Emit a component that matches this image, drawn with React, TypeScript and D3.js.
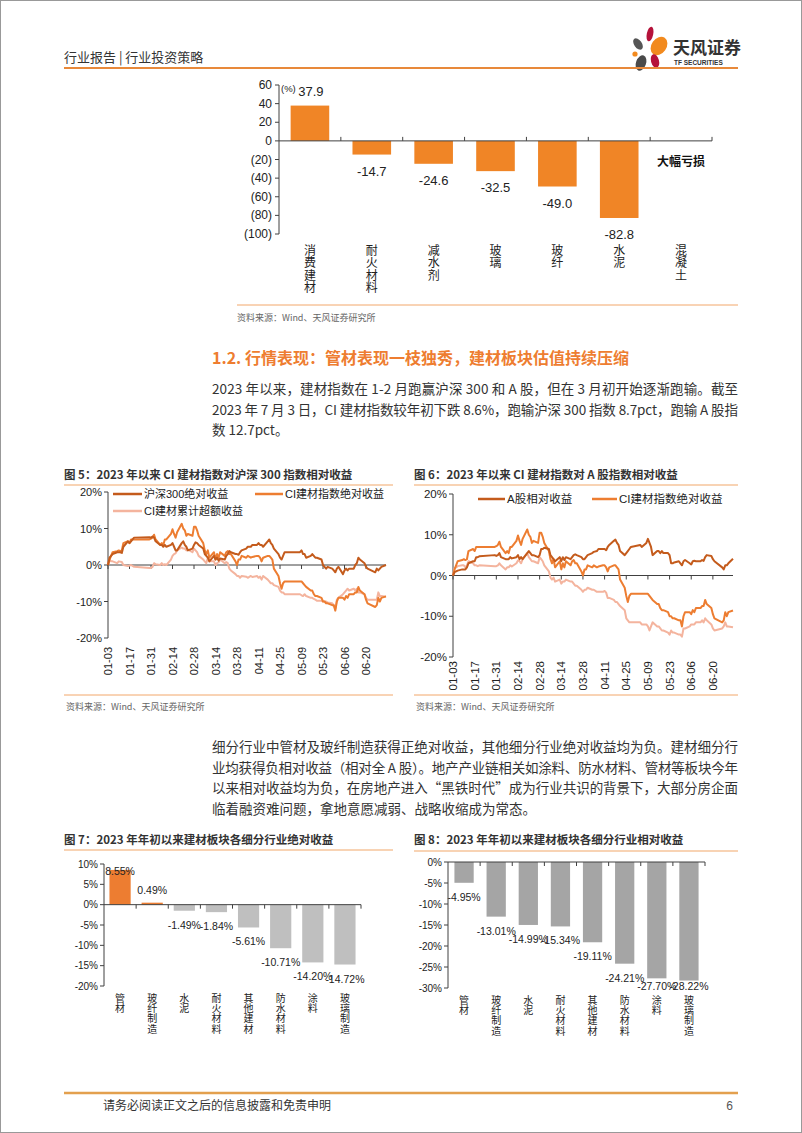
import React from "react";
import * as d3 from "d3";

const CJK = '"Noto Sans CJK SC", "Noto Sans", sans-serif';
const NUM = '"Liberation Sans", "Noto Sans CJK SC", sans-serif';

// ---------- Top chart (continued figure) ----------
const topCategories = ["消费建材", "耐火材料", "减水剂", "玻璃", "玻纤", "水泥", "混凝土"];
const topValues: (number | null)[] = [37.9, -14.7, -24.6, -32.5, -49.0, -82.8, null];
const topTicks = [60, 40, 20, 0, -20, -40, -60, -80, -100];
const topTickLabels = ["60", "40", "20", "0", "(20)", "(40)", "(60)", "(80)", "(100)"];

// ---------- Line charts ----------
const dateTicks = ["01-03", "01-17", "01-31", "02-14", "02-28", "03-14", "03-28", "04-11", "04-25", "05-09", "05-23", "06-06", "06-20"];
const pctTicks = [20, 10, 0, -10, -20];

const ciIndex: [string, number][] = [
  ["01-03", 0], ["01-04", 1.5], ["01-05", 2.5], ["01-06", 3.5], ["01-09", 3.8], ["01-10", 4], ["01-11", 3.8], ["01-12", 4],
  ["01-13", 6], ["01-16", 6.5], ["01-17", 6], ["01-18", 7], ["01-19", 7], ["01-20", 7], ["01-30", 7], ["01-31", 7.2],
  ["02-01", 7.5], ["02-02", 8.3], ["02-03", 7], ["02-06", 5.5], ["02-07", 6], ["02-08", 5.5], ["02-09", 7], ["02-10", 7],
  ["02-13", 8.5], ["02-14", 9.8], ["02-15", 8.5], ["02-16", 7.5], ["02-17", 9], ["02-20", 11.3], ["02-21", 10], ["02-22", 9.5],
  ["02-23", 8], ["02-24", 8.5], ["02-27", 8], ["02-28", 10.5], ["03-01", 10.5], ["03-02", 9.5], ["03-03", 8], ["03-06", 6],
  ["03-07", 4], ["03-08", 3], ["03-09", 4], ["03-10", 2], ["03-13", 3.5], ["03-14", 1.5], ["03-15", 3], ["03-16", 2],
  ["03-17", 3.5], ["03-20", 2.5], ["03-21", 3.5], ["03-22", 3.8], ["03-23", 3], ["03-24", 3], ["03-27", 1], ["03-28", 0],
  ["03-29", 1.5], ["03-30", 1.5], ["03-31", 2.5], ["04-03", 2], ["04-04", 2.5], ["04-06", 2], ["04-07", 2.2], ["04-10", 2.5],
  ["04-11", 2.5], ["04-12", 2], ["04-13", 1], ["04-14", 2], ["04-17", 2.5], ["04-18", 2.5], ["04-19", 2], ["04-20", 1.5],
  ["04-21", -1], ["04-24", -3], ["04-25", -5], ["04-26", -6.5], ["04-27", -5], ["04-28", -4.5], ["05-04", -4.5], ["05-05", -4.5],
  ["05-08", -4.5], ["05-09", -4.5], ["05-10", -5], ["05-11", -5.5], ["05-12", -6], ["05-15", -7], ["05-16", -7], ["05-17", -8],
  ["05-18", -8.5], ["05-19", -8.5], ["05-22", -9], ["05-23", -10], ["05-24", -10], ["05-25", -10.5], ["05-26", -10.5], ["05-29", -11],
  ["05-30", -11], ["05-31", -12.5], ["06-01", -10], ["06-02", -9], ["06-05", -9], ["06-06", -9.5], ["06-07", -8.5], ["06-08", -9],
  ["06-09", -8], ["06-12", -8], ["06-13", -7.5], ["06-14", -7.5], ["06-15", -6], ["06-16", -7], ["06-19", -8], ["06-20", -9.5],
  ["06-21", -10.5], ["06-26", -11.5], ["06-27", -11], ["06-28", -9], ["06-29", -10], ["06-30", -9], ["07-03", -8.6],
];

const hs300: [string, number][] = [
  ["01-03", 0], ["01-04", 2], ["01-05", 2.5], ["01-06", 3], ["01-09", 3.5], ["01-10", 3.5], ["01-11", 3.5], ["01-12", 3.3],
  ["01-13", 5], ["01-16", 6.5], ["01-17", 6], ["01-18", 6.5], ["01-19", 7], ["01-20", 7.5], ["01-30", 7.6], ["01-31", 7.5],
  ["02-01", 7.8], ["02-02", 7.5], ["02-03", 6.5], ["02-06", 5.5], ["02-07", 5.5], ["02-08", 5], ["02-09", 5.5], ["02-10", 5],
  ["02-13", 5.5], ["02-14", 6], ["02-15", 5], ["02-16", 4], ["02-17", 4], ["02-20", 6], ["02-21", 6.5], ["02-22", 5.5],
  ["02-23", 5], ["02-24", 4], ["02-27", 4.5], ["02-28", 5.5], ["03-01", 6.2], ["03-02", 6], ["03-03", 5.5], ["03-06", 4.5],
  ["03-07", 3], ["03-08", 2.5], ["03-09", 2], ["03-10", 1], ["03-13", 2.5], ["03-14", 1.5], ["03-15", 2], ["03-16", 1.2],
  ["03-17", 1.8], ["03-20", 1.5], ["03-21", 2.5], ["03-22", 3], ["03-23", 3.8], ["03-24", 3.5], ["03-27", 3], ["03-28", 3],
  ["03-29", 2.8], ["03-30", 3.5], ["03-31", 4], ["04-03", 4.5], ["04-04", 5], ["04-06", 5], ["04-07", 5.5], ["04-10", 5.5],
  ["04-11", 6], ["04-12", 5.5], ["04-13", 5.5], ["04-14", 5], ["04-17", 6.5], ["04-18", 7], ["04-19", 6], ["04-20", 5.5],
  ["04-21", 4.5], ["04-24", 3], ["04-25", 2], ["04-26", 1.5], ["04-27", 2.5], ["04-28", 3.5], ["05-04", 3.5], ["05-05", 3.5],
  ["05-08", 3.5], ["05-09", 4], ["05-10", 3], ["05-11", 3], ["05-12", 2], ["05-15", 2.5], ["05-16", 3], ["05-17", 2.5],
  ["05-18", 2], ["05-19", 2], ["05-22", 1.5], ["05-23", 0], ["05-24", -0.5], ["05-25", -1], ["05-26", -0.5], ["05-29", -1],
  ["05-30", -1.5], ["05-31", -2], ["06-01", -1], ["06-02", -0.5], ["06-05", -2.5], ["06-06", -1.5], ["06-07", -1], ["06-08", -1.5],
  ["06-09", -1], ["06-12", -1], ["06-13", 0], ["06-14", 0.5], ["06-15", 2], ["06-16", 1.5], ["06-19", 0.5], ["06-20", -0.5],
  ["06-21", -1], ["06-26", -2], ["06-27", -1], ["06-28", -1.5], ["06-29", -1], ["06-30", -0.5], ["07-03", 0],
];

const excessVsHs300: [string, number][] = [
  ["01-03", 0], ["01-04", 1.5], ["01-05", 1], ["01-06", 1], ["01-09", 0.5], ["01-10", 1], ["01-12", 0.8], ["01-13", 0],
  ["01-16", -0.3], ["01-18", 0], ["01-20", -0.5], ["01-30", -0.8], ["01-31", -0.8], ["02-01", -0.5], ["02-02", 0.5], ["02-03", 0.2],
  ["02-06", 0], ["02-07", 0.5], ["02-08", 0], ["02-09", 0.2], ["02-10", 0], ["02-13", 1.5], ["02-14", 2.5], ["02-15", 3],
  ["02-16", 3.2], ["02-17", 4], ["02-20", 4.8], ["02-21", 4.5], ["02-22", 4.5], ["02-23", 4], ["02-24", 4.2], ["02-27", 3.5],
  ["02-28", 4.5], ["03-01", 4], ["03-02", 3.5], ["03-03", 2.5], ["03-06", 1.5], ["03-07", 1], ["03-08", 0.5], ["03-09", 2],
  ["03-10", 1], ["03-13", 1], ["03-14", 0], ["03-15", 0.5], ["03-16", 0.7], ["03-17", 1.5], ["03-20", 0.5], ["03-21", 0.8],
  ["03-22", 0.5], ["03-23", -1], ["03-24", -1.5], ["03-27", -2.5], ["03-28", -3], ["03-29", -3], ["03-30", -3.5], ["03-31", -3],
  ["04-03", -3.2], ["04-04", -3.5], ["04-06", -3], ["04-07", -3.3], ["04-10", -3], ["04-11", -3.5], ["04-12", -3.2], ["04-13", -4],
  ["04-14", -3], ["04-17", -4], ["04-18", -4.5], ["04-19", -5], ["04-20", -5], ["04-21", -5.5], ["04-24", -6], ["04-25", -7],
  ["04-26", -7.5], ["04-27", -7.5], ["04-28", -8], ["05-04", -8], ["05-05", -8], ["05-08", -8], ["05-09", -8.3], ["05-10", -8.5],
  ["05-11", -8], ["05-12", -8.5], ["05-15", -9], ["05-16", -9], ["05-17", -9.3], ["05-18", -9.5], ["05-19", -9.8], ["05-22", -9.8],
  ["05-23", -10], ["05-24", -10], ["05-25", -10], ["05-26", -10.3], ["05-29", -10.5], ["05-30", -11], ["05-31", -12], ["06-01", -9.5],
  ["06-02", -9], ["06-05", -8], ["06-06", -7.5], ["06-07", -7], ["06-08", -6.5], ["06-09", -7], ["06-12", -6.5], ["06-13", -7],
  ["06-14", -6.5], ["06-15", -7.5], ["06-16", -7.5], ["06-19", -8], ["06-20", -9], ["06-21", -9.5], ["06-26", -9.5], ["06-27", -9.5],
  ["06-28", -7.5], ["06-29", -8.5], ["06-30", -8.5], ["07-03", -8.7],
];

const aShare: [string, number][] = [
  ["01-03", 0], ["01-04", 0.8], ["01-05", 1], ["01-06", 1.2], ["01-09", 1.5], ["01-10", 1.5], ["01-11", 1.5], ["01-12", 2],
  ["01-13", 3], ["01-16", 3.5], ["01-17", 3.5], ["01-18", 4.5], ["01-19", 4.5], ["01-20", 4.7], ["01-30", 5], ["01-31", 4.8],
  ["02-01", 5], ["02-02", 5.5], ["02-03", 4.5], ["02-06", 4], ["02-07", 4], ["02-08", 4], ["02-09", 4.5], ["02-10", 4.2],
  ["02-13", 4.5], ["02-14", 5], ["02-15", 4], ["02-16", 4.5], ["02-17", 4], ["02-20", 5.5], ["02-21", 6], ["02-22", 5.5],
  ["02-23", 5], ["02-24", 5], ["02-27", 4.5], ["02-28", 5], ["03-01", 6.5], ["03-02", 6.5], ["03-03", 6.8], ["03-06", 6.5],
  ["03-07", 5], ["03-08", 4.5], ["03-09", 4], ["03-10", 3.5], ["03-13", 4.5], ["03-14", 3.5], ["03-15", 4.5], ["03-16", 3.8],
  ["03-17", 4.5], ["03-20", 4], ["03-21", 4.5], ["03-22", 5], ["03-23", 5.2], ["03-24", 5], ["03-27", 4.5], ["03-28", 4],
  ["03-29", 4], ["03-30", 4.5], ["03-31", 5], ["04-03", 5.5], ["04-04", 5.8], ["04-06", 6], ["04-07", 6.5], ["04-10", 6.5],
  ["04-11", 6.5], ["04-12", 6.2], ["04-13", 7], ["04-14", 7.5], ["04-17", 8.5], ["04-18", 8.8], ["04-19", 8], ["04-20", 7.5],
  ["04-21", 6], ["04-24", 5], ["04-25", 5.5], ["04-26", 6], ["04-27", 6.5], ["04-28", 7], ["05-04", 7.5], ["05-05", 7],
  ["05-08", 8], ["05-09", 9], ["05-10", 8], ["05-11", 7], ["05-12", 5], ["05-15", 6], ["05-16", 6], ["05-17", 5.5],
  ["05-18", 6], ["05-19", 5.5], ["05-22", 5.5], ["05-23", 5], ["05-24", 3], ["05-25", 3], ["05-26", 3.2], ["05-29", 3.5],
  ["05-30", 3], ["05-31", 2.5], ["06-01", 3.5], ["06-02", 3.8], ["06-05", 3], ["06-06", 2.7], ["06-07", 3.5], ["06-08", 3.6],
  ["06-09", 3.5], ["06-12", 3.5], ["06-13", 3.8], ["06-14", 3.6], ["06-15", 4.5], ["06-16", 5], ["06-19", 4.8], ["06-20", 4],
  ["06-21", 3.5], ["06-26", 2], ["06-27", 1.5], ["06-28", 2.5], ["06-29", 2.5], ["06-30", 3], ["07-03", 4.1],
];

const excessVsA: [string, number][] = [
  ["01-03", 0], ["01-04", 1.8], ["01-05", 2], ["01-06", 2.3], ["01-09", 2.5], ["01-10", 2.5], ["01-11", 2], ["01-12", 2.5],
  ["01-13", 3.5], ["01-16", 3], ["01-17", 2.5], ["01-18", 2.5], ["01-19", 2.3], ["01-20", 2.5], ["01-30", 2.3], ["01-31", 2.3],
  ["02-01", 2.5], ["02-02", 3], ["02-03", 2.5], ["02-06", 1.5], ["02-07", 2], ["02-08", 2], ["02-09", 2.5], ["02-10", 2.2],
  ["02-13", 3], ["02-14", 3.7], ["02-15", 3.5], ["02-16", 3], ["02-17", 4], ["02-20", 5.5], ["02-21", 4.5], ["02-22", 4],
  ["02-23", 3.5], ["02-24", 3.5], ["02-27", 3], ["02-28", 4.5], ["03-01", 4], ["03-02", 3.5], ["03-03", 2.5], ["03-06", 1],
  ["03-07", -0.5], ["03-08", -1], ["03-09", -0.5], ["03-10", -1.5], ["03-13", -1], ["03-14", -2], ["03-15", -1.5], ["03-16", -1.5],
  ["03-17", -1], ["03-20", -1.5], ["03-21", -1.5], ["03-22", -2], ["03-23", -2.5], ["03-24", -2.5], ["03-27", -3.5], ["03-28", -4],
  ["03-29", -3.5], ["03-30", -3.5], ["03-31", -3], ["04-03", -3.5], ["04-04", -3.5], ["04-06", -4], ["04-07", -4], ["04-10", -4],
  ["04-11", -3.8], ["04-12", -4.2], ["04-13", -5.5], ["04-14", -5.5], ["04-17", -6], ["04-18", -6.5], ["04-19", -6.5], ["04-20", -7],
  ["04-21", -7.5], ["04-24", -8.5], ["04-25", -10.5], ["04-26", -11], ["04-27", -11.5], ["04-28", -11.5], ["05-04", -11.5], ["05-05", -12],
  ["05-08", -12], ["05-09", -12.5], ["05-10", -13.5], ["05-11", -12.5], ["05-12", -11.5], ["05-15", -12.5], ["05-16", -12.5], ["05-17", -13],
  ["05-18", -13.5], ["05-19", -13.5], ["05-22", -14], ["05-23", -14.5], ["05-24", -13.5], ["05-25", -14], ["05-26", -14], ["05-29", -14.5],
  ["05-30", -14.5], ["05-31", -15], ["06-01", -13], ["06-02", -13], ["06-05", -12.5], ["06-06", -12], ["06-07", -12], ["06-08", -12],
  ["06-09", -11.5], ["06-12", -11.5], ["06-13", -11], ["06-14", -11.5], ["06-15", -10.5], ["06-16", -11], ["06-19", -12], ["06-20", -13],
  ["06-21", -13.5], ["06-26", -13], ["06-27", -12.5], ["06-28", -11.5], ["06-29", -12.5], ["06-30", -12.5], ["07-03", -12.7],
];

// ---------- Sub-industry bar charts ----------
const subCategories = ["管材", "玻纤制造", "水泥", "耐火材料", "其他建材", "防水材料", "涂料", "玻璃制造"];
const absReturns = [8.55, 0.49, -1.49, -1.84, -5.61, -10.71, -14.2, -14.72];
const relReturns = [-4.95, -13.01, -14.99, -15.34, -19.11, -24.21, -27.7, -28.22];
const absTicks = [10, 5, 0, -5, -10, -15, -20];
const relTicks = [0, -5, -10, -15, -20, -25, -30];

// ---------- Texts ----------
const para1 = [
  "2023 年以来，建材指数在 1-2 月跑赢沪深 300 和 A 股，但在 3 月初开始逐渐跑输。截至",
  "2023 年 7 月 3 日，CI 建材指数较年初下跌 8.6%，跑输沪深 300 指数 8.7pct，跑输 A 股指",
  "数 12.7pct。",
];
const para2 = [
  "细分行业中管材及玻纤制造获得正绝对收益，其他细分行业绝对收益均为负。建材细分行",
  "业均获得负相对收益（相对全 A 股）。地产产业链相关如涂料、防水材料、管材等板块今年",
  "以来相对收益均为负，在房地产进入“黑铁时代”成为行业共识的背景下，大部分房企面",
  "临着融资难问题，拿地意愿减弱、战略收缩成为常态。",
];

const DARK = "#C45B1C";
const ORANGE = "#ED7D31";
const SALMON = "#F4B49E";
const AXIS = "#404040";
const RULE = "#F2A76B";

const parseDate = (s: string) => d3.timeParse("%Y-%m-%d")("2023-" + s) as Date;

// vertical (top-to-bottom) category label as one text element
function VText({ x, y, text, step, size, color = "#222" }: any) {
  return (
    <text x={x} y={y} fontFamily={CJK} fontSize={size} fill={color}
      style={{ writingMode: "vertical-rl", letterSpacing: `${step - size}px` } as any}>
      {text}
    </text>
  );
}

function TopChart() {
  const x = d3.scaleBand<string>().domain(topCategories).range([279, 712]).paddingInner(0.376).paddingOuter(0.188);
  const y = d3.scaleLinear().domain([-100, 60]).range([234, 85]);
  const step = x.step();
  const y0 = y(0);
  return (
    <g>
      <line x1={279} x2={279} y1={y(60)} y2={y(-100)} stroke={AXIS} />
      {topTicks.map((t, i) => (
        <g key={t}>
          <line x1={275} x2={279} y1={y(t)} y2={y(t)} stroke={AXIS} />
          <text x={272} y={y(t)} textAnchor="end" dominantBaseline="central" fontFamily={NUM} fontSize={12} fill="#222">{topTickLabels[i]}</text>
        </g>
      ))}
      <text x={281} y={y(60) + 3} fontFamily={NUM} fontSize={9.5} fill="#222" dominantBaseline="central">(%)</text>
      {topCategories.map((c, i) => {
        const v = topValues[i];
        const bx = x(c)!;
        const cx = bx + x.bandwidth() / 2;
        return (
          <g key={c}>
            {v !== null && (
              <rect x={bx} width={x.bandwidth()} y={Math.min(y(v), y0)} height={Math.abs(y(v) - y0)} fill="#F08526" />
            )}
            {v !== null && (
              <text x={v >= 0 ? cx + 1 : cx} y={v >= 0 ? y(v) - 10 : y(v) + 21} textAnchor="middle" fontFamily={NUM} fontSize={13} fill="#222">
                {v.toFixed(1)}
              </text>
            )}
            <VText x={cx} y={244} text={c} step={12.5} size={12} />
          </g>
        );
      })}
      <line x1={279} x2={712} y1={y0} y2={y0} stroke={AXIS} />
      {d3.range(1, topCategories.length + 1).map((k) => (
        <line key={k} x1={279 + k * step} x2={279 + k * step} y1={y0} y2={y0 - 4} stroke={AXIS} />
      ))}
      <text x={x("混凝土")! + x.bandwidth() / 2} y={y(-20) + 1} textAnchor="middle" dominantBaseline="central"
        fontFamily={CJK} fontWeight="bold" fontSize={12} fill="#111">大幅亏损</text>
      <line x1={237} x2={738} y1={305} y2={305} stroke={RULE} strokeWidth={1} />
      <text x={237} y={321} fontFamily={CJK} fontSize={9} fill="#666">资料来源：Wind、天风证券研究所</text>
    </g>
  );
}

function LineChart({ left, right, top, bottom, labelTop, series, legend, fs }: any) {
  const x = d3.scaleTime().domain([parseDate("01-03"), parseDate("07-03")]).range([left, right]);
  const y = d3.scaleLinear().domain([-20, 20]).range([bottom, top]);
  const line = d3.line<[string, number]>().x((d) => x(parseDate(d[0]))).y((d) => y(d[1]));
  return (
    <g>
      <line x1={left} x2={left} y1={top} y2={bottom} stroke={AXIS} />
      {pctTicks.map((t) => (
        <g key={t}>
          <line x1={left - 4} x2={left} y1={y(t)} y2={y(t)} stroke={AXIS} />
          <text x={left - 6} y={y(t)} textAnchor="end" dominantBaseline="central" fontFamily={NUM} fontSize={fs} fill="#222">{t}%</text>
        </g>
      ))}
      <line x1={left} x2={right} y1={y(0)} y2={y(0)} stroke={AXIS} />
      {dateTicks.map((d) => {
        const px = x(parseDate(d));
        return (
          <g key={d}>
            <line x1={px} x2={px} y1={y(0)} y2={y(0) + 4} stroke={AXIS} />
            <text transform={`translate(${px},${labelTop}) rotate(-90)`} textAnchor="end" dominantBaseline="central"
              fontFamily={NUM} fontSize={fs} fill="#222">{d}</text>
          </g>
        );
      })}
      {series.map((s: any, i: number) => (
        <path key={i} d={line(s.data)!} fill="none" stroke={s.color} strokeWidth={2} strokeLinejoin="round" />
      ))}
      {legend.map((l: any, i: number) => (
        <g key={i}>
          <line x1={l.x} x2={l.x + l.len} y1={l.y} y2={l.y} stroke={l.color} strokeWidth={2.5} />
          <text x={l.x + l.len + 2} y={l.y} dominantBaseline="central" fontFamily={NUM} fontSize={fs} fill="#222">{l.label}</text>
        </g>
      ))}
    </g>
  );
}

function SubBarChart({ values, ticks, left, right, top, bottom, domain, pad, posColor, negColor, labelTop, maxBase, minBase }: any) {
  const x = d3.scaleBand<string>().domain(subCategories).range([left, right]).paddingInner(pad).paddingOuter(pad / 2);
  const y = d3.scaleLinear().domain(domain).range([bottom, top]);
  const y0 = y(0);
  const step = x.step();
  return (
    <g>
      {(values as number[]).map((v, i) => {
        const c = subCategories[i];
        const bx = x(c)!;
        const cx = bx + x.bandwidth() / 2;
        const base = v >= 0 ? Math.max(y(v) - 9, minBase) : Math.min(y(v) + 18, maxBase);
        return (
          <g key={c}>
            <rect x={bx} width={x.bandwidth()} y={Math.min(y(v), y0)} height={Math.abs(y(v) - y0)} fill={v >= 0 ? posColor : negColor} />
            <text x={cx} y={base} textAnchor="middle" fontFamily={NUM} fontSize={10.5} fill="#222">{v.toFixed(2)}%</text>
            <VText x={cx} y={labelTop} text={c} step={10.3} size={10} />
          </g>
        );
      })}
      <line x1={left} x2={left} y1={top} y2={bottom} stroke={AXIS} />
      {(ticks as number[]).map((t) => (
        <g key={t}>
          <line x1={left - 4} x2={left} y1={y(t)} y2={y(t)} stroke={AXIS} />
          <text x={left - 6} y={y(t)} textAnchor="end" dominantBaseline="central" fontFamily={NUM} fontSize={10} fill="#222">{t}%</text>
        </g>
      ))}
      <line x1={left} x2={right} y1={y0} y2={y0} stroke={AXIS} />
      {d3.range(1, subCategories.length + 1).map((k) => (
        <line key={k} x1={left + k * step} x2={left + k * step} y1={y0} y2={y0 + 4} stroke={AXIS} />
      ))}
    </g>
  );
}

function Logo() {
  return (
    <g>
      <ellipse cx={650} cy={34} rx={3.2} ry={7.5} fill="#B5123A" transform="rotate(12 650 34)" />
      <ellipse cx={659} cy={46} rx={7.5} ry={10} fill="#F28A1E" transform="rotate(35 659 46)" />
      <ellipse cx={638} cy={44} rx={3.8} ry={6.5} fill="#555" transform="rotate(-35 638 44)" />
      <circle cx={635} cy={54} r={2.6} fill="#F28A1E" />
      <ellipse cx={655} cy={61} rx={4} ry={7} fill="#B5123A" transform="rotate(-15 655 61)" />
      <ellipse cx={641} cy={63} rx={5} ry={8} fill="#4a4a4a" transform="rotate(20 641 63)" />
      <text x={673} y={54} fontFamily={CJK} fontWeight="bold" fontSize={17} fill="#333">天风证券</text>
      <text x={674} y={65} fontFamily={NUM} fontWeight="bold" fontSize={6.5} fill="#333">TF SECURITIES</text>
    </g>
  );
}

export default function App() {
  return (
    <svg width={802} height={1133} style={{ position: "absolute", left: 0, top: 0, background: "#fff" }}>
      <rect x={0} y={0} width={802} height={1133} fill="#fff" />
      <rect x={0.5} y={0.5} width={801} height={1132} fill="none" stroke="#999" />
      {/* header */}
      <text x={64} y={62} fontFamily={CJK} fontSize={13} fill="#333">行业报告 | 行业投资策略</text>
      <Logo />
      <line x1={64} x2={738} y1={68} y2={68} stroke="#E8893A" strokeWidth={2} />

      <TopChart />

      {/* section */}
      <text x={212} y={364} fontFamily={CJK} fontWeight="bold" fontSize={16} fill="#EE7D30">1.2. 行情表现：管材表现一枝独秀，建材板块估值持续压缩</text>
      {para1.map((t, i) => (
        <text key={i} x={212} y={394 + i * 20.5} fontFamily={CJK} fontSize={13.5} fill="#333"
          {...(i < para1.length - 1 ? { textLength: 526, lengthAdjust: "spacing" } : {})}>{t}</text>
      ))}

      {/* figure 5 */}
      <text x={64} y={479} fontFamily={CJK} fontWeight="bold" fontSize={11.5} fill="#333">图 5：2023 年以来 CI 建材指数对沪深 300 指数相对收益</text>
      <line x1={64} x2={393} y1={485} y2={485} stroke={RULE} strokeWidth={1.2} />
      <LineChart left={108} right={386} top={492} bottom={638} labelTop={647} fs={11}
        series={[{ data: excessVsHs300, color: SALMON }, { data: ciIndex, color: ORANGE }, { data: hs300, color: DARK }]}
        legend={[
          { x: 113, y: 494, len: 29, color: DARK, label: "沪深300绝对收益" },
          { x: 255, y: 494, len: 28, color: ORANGE, label: "CI建材指数绝对收益" },
          { x: 113, y: 511, len: 29, color: SALMON, label: "CI建材累计超额收益" },
        ]} />
      <line x1={64} x2={393} y1={695} y2={695} stroke={RULE} strokeWidth={1} />
      <text x={66} y={710} fontFamily={CJK} fontSize={9} fill="#666">资料来源：Wind、天风证券研究所</text>

      {/* figure 6 */}
      <text x={414} y={479} fontFamily={CJK} fontWeight="bold" fontSize={11.5} fill="#333">图 6：2023 年以来 CI 建材指数对 A 股指数相对收益</text>
      <line x1={414} x2={738} y1={485} y2={485} stroke={RULE} strokeWidth={1.2} />
      <LineChart left={453} right={733} top={494} bottom={657} labelTop={661} fs={11.5}
        series={[{ data: excessVsA, color: SALMON }, { data: ciIndex, color: ORANGE }, { data: aShare, color: DARK }]}
        legend={[
          { x: 478, y: 499, len: 27, color: DARK, label: "A股相对收益" },
          { x: 592, y: 499, len: 25, color: ORANGE, label: "CI建材指数绝对收益" },
        ]} />
      <line x1={414} x2={738} y1={695} y2={695} stroke={RULE} strokeWidth={1} />
      <text x={416} y={710} fontFamily={CJK} fontSize={9} fill="#666">资料来源：Wind、天风证券研究所</text>

      {/* paragraph 2 */}
      {para2.map((t, i) => (
        <text key={i} x={212} y={752 + i * 20.6} fontFamily={CJK} fontSize={13.5} fill="#333"
          {...(i < para2.length - 1 ? { textLength: 526, lengthAdjust: "spacing" } : {})}>{t}</text>
      ))}

      {/* figure 7 */}
      <text x={64} y={844} fontFamily={CJK} fontWeight="bold" fontSize={11.5} fill="#333">图 7：2023 年年初以来建材板块各细分行业绝对收益</text>
      <line x1={64} x2={393} y1={850} y2={850} stroke={RULE} strokeWidth={1.2} />
      <SubBarChart values={absReturns} ticks={absTicks} left={104} right={361} top={864} bottom={986} domain={[-20, 10]}
        pad={0.34} posColor="#ED7D31" negColor="#BFBFBF" labelTop={993} maxBase={1000} minBase={875} />

      {/* figure 8 */}
      <text x={414} y={844} fontFamily={CJK} fontWeight="bold" fontSize={11.5} fill="#333">图 8：2023 年年初以来建材板块各细分行业相对收益</text>
      <line x1={414} x2={738} y1={851} y2={851} stroke={RULE} strokeWidth={1.2} />
      <SubBarChart values={relReturns} ticks={relTicks} left={448} right={705} top={862} bottom={988} domain={[-30, 0]}
        pad={0.4} posColor="#ED7D31" negColor="#A5A5A5" labelTop={995} maxBase={990} minBase={875} />

      {/* footer */}
      <line x1={64} x2={738} y1={1093} y2={1093} stroke="#E3A04E" strokeWidth={2.5} />
      <text x={103} y={1110} fontFamily={CJK} fontSize={12} fill="#333">请务必阅读正文之后的信息披露和免责申明</text>
      <text x={733} y={1110} textAnchor="end" fontFamily={NUM} fontSize={12} fill="#555">6</text>
    </svg>
  );
}
